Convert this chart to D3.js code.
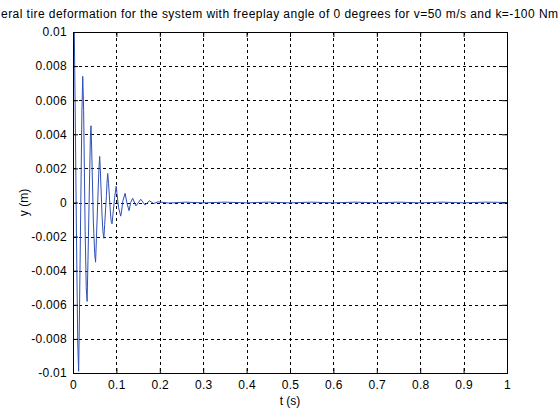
<!DOCTYPE html>
<html>
<head>
<meta charset="utf-8">
<script src="https://cdn.jsdelivr.net/npm/d3@7"></script>
<style>
  body { margin: 0; background: #fff; }
  svg { display: block; font-family: "Liberation Sans", Arial, Helvetica, sans-serif; }
</style>
</head>
<body>
<svg id="chart" width="560" height="420"></svg>
<script>
'use strict';

// tire deformation samples: time (s) and y (m)
var times = [
    0.000, 0.001, 0.003, 0.005, 0.008, 0.011, 0.013, 0.015, 0.018, 0.0205,
    0.0225, 0.0245, 0.028, 0.0305, 0.0325, 0.0345, 0.038, 0.040, 0.0415, 0.043,
    0.047, 0.050, 0.052, 0.054, 0.058, 0.060, 0.0615, 0.063, 0.067, 0.069,
    0.071, 0.073, 0.077, 0.0785, 0.080, 0.082, 0.086, 0.088, 0.090, 0.092,
    0.096, 0.0995, 0.101, 0.105, 0.110, 0.112, 0.115, 0.120, 0.124, 0.129,
    0.133, 0.1375, 0.145, 0.156, 0.166, 0.176, 0.186, 0.196, 0.22, 0.26,
    0.30, 0.35, 0.40, 0.45, 0.50, 0.55, 0.60, 0.65, 0.70, 0.75,
    0.80, 0.85, 0.90, 0.95, 1.00
];
var yValues = [
    0.0057, 0.0100, 0.0100, 0.0056, -0.0020, -0.0083, -0.0099, -0.0063, 0.0000, 0.0053,
    0.0074, 0.0054, -0.0017, -0.0050, -0.0058, -0.0034, 0.0012, 0.0038, 0.0045, 0.0032,
    -0.0012, -0.0030, -0.0035, -0.0021, 0.0008, 0.0021, 0.0027, 0.0019, -0.0008, -0.0017,
    -0.0021, -0.0013, 0.0004, 0.0012, 0.0017, 0.0011, -0.0005, -0.0011, -0.00125, -0.0007,
    0.0003, 0.00095, 0.0006, -0.0003, -0.0008, -0.0005, 0.0001, 0.00054, 0.0000, -0.00048,
    0.0000, 0.00025, -0.0002, 0.00019, -0.00015, 0.0001, -0.00006, 0.00004, -0.00003, 0.00002,
    -0.00002, 0.00002, -0.00002, 0.00002, -0.00002, 0.00002, -0.00002, 0.00002, -0.00002, 0.00002,
    -0.00002, 0.00002, -0.00002, 0.00002, 0.0000
];

var xTicks = [0, 0.1, 0.2, 0.3, 0.4, 0.5, 0.6, 0.7, 0.8, 0.9, 1];
var yTicks = [-0.01, -0.008, -0.006, -0.004, -0.002, 0, 0.002, 0.004, 0.006, 0.008, 0.01];

// the title as far as it shows inside the figure window
var titleText = 'eral tire deformation for the system with freeplay angle of 0 degrees for v=50 m/s and k=-100 Nm';

var svg = d3.select('#chart');
var margin = {left: 73, right: 53, top: 32, bottom: 47};
var w = 560 - margin.left - margin.right,
    h = 420 - margin.top - margin.bottom;

var x = d3.scaleLinear().domain([0, 1]).range([0, w]);
var y = d3.scaleLinear().domain([-0.01, 0.01]).range([h, 0]);

var g = svg.append('g').attr('transform', 'translate(' + margin.left + ',' + margin.top + ')');

// dashed grid
g.append('g').selectAll('line').data(xTicks.slice(1, -1)).enter().append('line')
    .attr('x1', function(d) { return Math.round(x(d)) + 0.5; }).attr('x2', function(d) { return Math.round(x(d)) + 0.5; })
    .attr('y1', 0).attr('y2', h)
    .attr('stroke', '#000').attr('stroke-width', 1).attr('stroke-dasharray', '3,3');
g.append('g').selectAll('line').data(yTicks.slice(1, -1)).enter().append('line')
    .attr('y1', function(d) { return Math.round(y(d)) + 0.5; }).attr('y2', function(d) { return Math.round(y(d)) + 0.5; })
    .attr('x1', 0).attr('x2', w)
    .attr('stroke', '#000').attr('stroke-width', 1).attr('stroke-dasharray', '3,3');

// data line, clipped to the axes box
svg.append('clipPath').attr('id', 'clip').append('rect').attr('width', w + 1).attr('height', h + 1);
var pts = times.map(function(t, i) { return [t, yValues[i]]; });
g.append('path').datum(pts)
    .attr('clip-path', 'url(#clip)')
    .attr('fill', 'none').attr('stroke', '#2f4fb5').attr('stroke-width', 1)
    .attr('d', d3.line().x(function(d) { return x(d[0]); }).y(function(d) { return y(d[1]); }));

// axes with inward ticks on all four sides
var fmtY = function(d) { return d === 0 ? '0' : String(+d.toFixed(3)); };
var fmtX = function(d) { return String(+d.toFixed(1)); };

var axBottom = g.append('g').attr('transform', 'translate(0,' + h + ')')
    .call(d3.axisBottom(x).tickValues(xTicks).tickFormat(fmtX).tickSizeInner(-5).tickSizeOuter(0).tickPadding(7));
var axTop = g.append('g')
    .call(d3.axisTop(x).tickValues(xTicks).tickFormat('').tickSizeInner(-5).tickSizeOuter(0));
var axLeft = g.append('g')
    .call(d3.axisLeft(y).tickValues(yTicks).tickFormat(fmtY).tickSizeInner(-5).tickSizeOuter(0).tickPadding(6));
var axRight = g.append('g').attr('transform', 'translate(' + w + ',0)')
    .call(d3.axisRight(y).tickValues(yTicks).tickFormat('').tickSizeInner(-5).tickSizeOuter(0));

[axBottom, axTop, axLeft, axRight].forEach(function(a) {
    a.select('.domain').remove();
    a.selectAll('line').attr('stroke', '#000');
    a.selectAll('text').attr('fill', '#000').style('font-size', '12px')
        .style('letter-spacing', '0.3px').attr('font-family', null);
});

// axes box
g.append('rect').attr('x', 0.5).attr('y', 0.5).attr('width', w).attr('height', h)
    .attr('fill', 'none').attr('stroke', '#000').attr('stroke-width', 1);

// labels
svg.append('text').attr('x', margin.left + w / 2).attr('y', 405)
    .attr('text-anchor', 'middle').style('font-size', '12px').text('t (s)');
svg.append('text').attr('transform', 'translate(28,' + (margin.top + h / 2) + ') rotate(-90)')
    .attr('text-anchor', 'middle').style('font-size', '12px').text('y (m)');
svg.append('text').attr('x', 1).attr('y', 18)
    .attr('textLength', 557).attr('lengthAdjust', 'spacing')
    .style('font-size', '12px').text(titleText);
</script>
</body>
</html>
